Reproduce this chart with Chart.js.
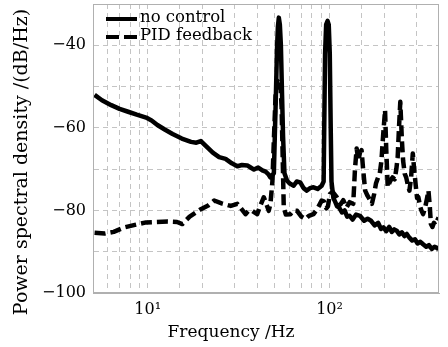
<!DOCTYPE html>
<html>
<head>
<meta charset="utf-8">
<script src="https://cdn.jsdelivr.net/npm/chart.js@4/dist/chart.umd.min.js"></script>
<style>
  html, body { margin: 0; padding: 0; background: #fff; }
  #wrap { width: 448px; height: 347px; position: relative; }
</style>
</head>
<body>
<div id="wrap"><canvas id="psdChart"></canvas></div>
<script>
"use strict";

// frequency (Hz) and PSD (dB/Hz)
var freqNoControl = [5.1, 5.6, 6.3, 7.0, 7.8, 8.7, 9.8, 10.5, 11.3, 12.4, 13.7, 15.4, 17.3, 18.5, 19.6, 21.0, 22.8, 24.7, 26.8, 29.0,
    31.1, 33.0, 35.3, 36.8, 38.4, 40.5, 42.7, 44.5, 46.0, 47.3, 48.3, 49.4, 50.0, 50.7, 51.4, 52.0, 52.6, 53.3, 54.0, 54.8, 55.5, 56.5,
    58.4, 60.5, 63.5, 66, 69, 72, 75, 78, 81.6, 86, 90.5, 92.8, 93.5, 94.5, 95.8, 97.5, 99, 100.3, 101.5, 102.5,
    105, 107.6, 110, 113, 117, 121, 125, 129, 134, 140, 147, 155, 162, 169, 177, 185, 192, 198, 205, 213,
    220, 227, 234, 242, 250, 258, 266, 275, 285, 295, 305, 316, 327, 340, 352, 365, 378, 387, 398];
var psdNoControl = [-52.0, -53.3, -54.5, -55.4, -56.1, -56.8, -57.5, -58.2, -59.3, -60.4, -61.5, -62.6, -63.4, -63.6, -63.2, -64.5, -66.0, -67.1, -67.5, -68.6,
    -69.3, -69.0, -69.1, -69.6, -70.1, -69.6, -70.3, -70.6, -71.2, -72.0, -71.5, -71, -62, -52, -41, -35.5, -33.3, -35, -40, -52, -62, -71,
    -72.8, -73.5, -74.0, -73.0, -73.2, -74.6, -75.2, -74.6, -74.4, -74.8, -74.0, -73, -60, -42, -35, -34.1, -35, -42, -60, -73,
    -77.0, -78.0, -79.0, -79.3, -80.5, -80.0, -81.5, -81.3, -82.2, -81.0, -81.3, -82.5, -82.0, -82.5, -83.6, -83.0, -84.5, -84.1, -85.0, -84.0,
    -85.2, -84.6, -84.9, -85.8, -85.3, -86.2, -85.7, -86.6, -87.3, -87.0, -88.0, -87.6, -88.2, -88.8, -88.4, -89.3, -88.8, -89.0, -89.4];

var freqPid = [5.1, 5.8, 6.5, 7.45, 8.5, 9.8, 11.0, 12.9, 14.5, 15.5, 17.0, 19.6, 21.5, 23.2, 25.5, 28.6, 31.1, 33.0, 34.5, 36.0,
    37.6, 40, 41.5, 43.5, 45.0, 46.3, 47.3, 48.5, 49.5, 50.5, 51.5, 52.6, 53.6, 54.5, 55.3, 56.0, 57.5, 60.9, 63.5, 66.3,
    70, 73.7, 77, 81.6, 86, 90.5, 93, 96, 98, 100.6, 104, 109.6, 115, 119, 124, 129, 135, 138, 141, 144,
    147, 150, 153, 157, 162, 167, 171, 176, 180, 185, 189, 193, 197, 202, 205, 209, 215, 222, 228, 233,
    237, 241, 245, 250, 254, 259, 264, 270, 275, 281, 287, 292, 298, 303, 308, 315, 320, 327, 335, 344,
    350, 356, 361, 368, 375, 382, 390, 398];
var psdPid = [-85.4, -85.6, -85.2, -84.1, -83.5, -82.9, -82.8, -82.7, -82.8, -83.3, -81.5, -79.7, -78.8, -77.6, -78.3, -78.9, -78.4, -79.8, -80.9, -80.0,
    -80.1, -80.9, -79.0, -76.8, -78.5, -80.1, -78.4, -73, -62, -52, -48.5, -48.0, -49, -55, -68, -79.3, -81.0, -80.9, -80.0, -80.1,
    -81.5, -82.1, -81.3, -80.9, -79.5, -77.6, -77.8, -79.5, -79.0, -76.0, -75.5, -76.8, -78.5, -77.5, -79.3, -78.0, -78.4, -70, -65.0, -68,
    -66, -65.4, -70, -75.2, -76.5, -77.5, -78.4, -76, -73.5, -72.0, -71, -67.9, -62, -55.7, -65, -74.4, -73, -72.0, -72.5, -70,
    -67.1, -60, -53.7, -63, -68, -71.1, -72, -74, -75.2, -72, -66.2, -70, -74, -77, -76.8, -79, -80, -80.9, -79.5, -77,
    -75.2, -79, -83.3, -84, -83, -83.5, -82.5, -81.7];

var seriesNames = ['no control', 'PID feedback'];
var xTickLabels = { 10: '10\u00B9', 100: '10\u00B2' };
var yTickLabels = [-40, -60, -80, -100];
var xTitle = 'Frequency /Hz';
var yTitle = 'Power spectral density /(dB/Hz)';

function toPoints(xs, ys) {
    return xs.map(function (x, i) { return { x: x, y: ys[i] }; });
}

var serif = '"DejaVu Serif", serif';

// frame round the plot area, legend inside it, axis titles centred on the figure
var framePlugin = {
    id: 'frame',
    afterDraw: function (chart) {
        var ctx = chart.ctx, a = chart.chartArea;
        ctx.save();
        ctx.strokeStyle = '#b0b0b0';
        ctx.lineWidth = 1;
        ctx.strokeRect(a.left + 0.5, a.top + 0.5, a.right - a.left - 1, a.bottom - a.top - 1);

        // legend
        var x0 = a.left + 13, x1 = a.left + 44;
        var rows = [a.top + 15, a.top + 33];
        ctx.strokeStyle = '#000';
        ctx.fillStyle = '#000';
        ctx.lineWidth = 4;
        ctx.font = '16.5px ' + serif;
        ctx.textBaseline = 'middle';
        chart.data.datasets.forEach(function (ds, i) {
            ctx.setLineDash(i ? [13, 5] : []);
            ctx.beginPath();
            ctx.moveTo(x0, rows[i]);
            ctx.lineTo(x1, rows[i]);
            ctx.stroke();
            ctx.setLineDash([]);
            ctx.fillText(ds.label, x1 + 3, rows[i] - 1);
        });

        // axis titles
        ctx.textAlign = 'center';
        ctx.font = '17px ' + serif;
        ctx.fillText(xTitle, 231, chart.height - 14);
        ctx.translate(22, 162);
        ctx.rotate(-Math.PI / 2);
        ctx.font = '19px ' + serif;
        ctx.fillText(yTitle, 0, 0);
        ctx.restore();
    }
};

var ctx = document.getElementById('psdChart').getContext('2d');
var psdChart = new Chart(ctx, {
    type: 'line',
    data: {
        datasets: [{
            label: seriesNames[0],
            data: toPoints(freqNoControl, psdNoControl),
            borderColor: '#000',
            borderWidth: 4.5,
            borderJoinStyle: 'round',
            pointRadius: 0,
            tension: 0,
            fill: false
        }, {
            label: seriesNames[1],
            data: toPoints(freqPid, psdPid),
            borderColor: '#000',
            borderWidth: 4.5,
            borderDash: [11, 5],
            borderJoinStyle: 'round',
            pointRadius: 0,
            tension: 0,
            fill: false
        }]
    },
    options: {
        responsive: true,
        maintainAspectRatio: false,
        animation: false,
        layout: { padding: { top: 4, right: 9, left: 0, bottom: 0 } },
        plugins: {
            legend: { display: false },
            tooltip: { enabled: false }
        },
        scales: {
            x: {
                type: 'logarithmic',
                min: 5,
                max: 400,
                afterFit: function (s) {
                    s.height = 54;
                    s.paddingLeft = 0;
                    s.paddingRight = 0;
                },
                grid: {
                    color: function (c) {
                        var v = c.tick && c.tick.value;
                        return (v === 5 || v === 400) ? 'rgba(0,0,0,0)' : '#c4c4c4';
                    },
                    drawTicks: false,
                    lineWidth: 1
                },
                border: { display: true, color: '#b0b0b0', dash: [5, 4] },
                ticks: {
                    autoSkip: false,
                    maxRotation: 0,
                    padding: 7,
                    color: '#000',
                    font: { family: serif, size: 16 },
                    callback: function (v) { return xTickLabels[v] || ''; }
                }
            },
            y: {
                min: -100,
                max: -30,
                afterFit: function (s) {
                    s.width = 93;
                    s.paddingTop = 0;
                    s.paddingBottom = 0;
                },
                grid: {
                    color: function (c) {
                        var v = c.tick && c.tick.value;
                        return (v === -100 || v === -30) ? 'rgba(0,0,0,0)' : '#c4c4c4';
                    },
                    drawTicks: false,
                    lineWidth: 1
                },
                border: { display: true, color: '#b0b0b0', dash: [5, 4] },
                ticks: {
                    stepSize: 10,
                    padding: 7,
                    color: '#000',
                    font: { family: serif, size: 16 },
                    callback: function (v) {
                        return yTickLabels.indexOf(v) >= 0 ? '\u2212' + Math.abs(v) : '';
                    }
                }
            }
        }
    },
    plugins: [framePlugin]
});
</script>
</body>
</html>
